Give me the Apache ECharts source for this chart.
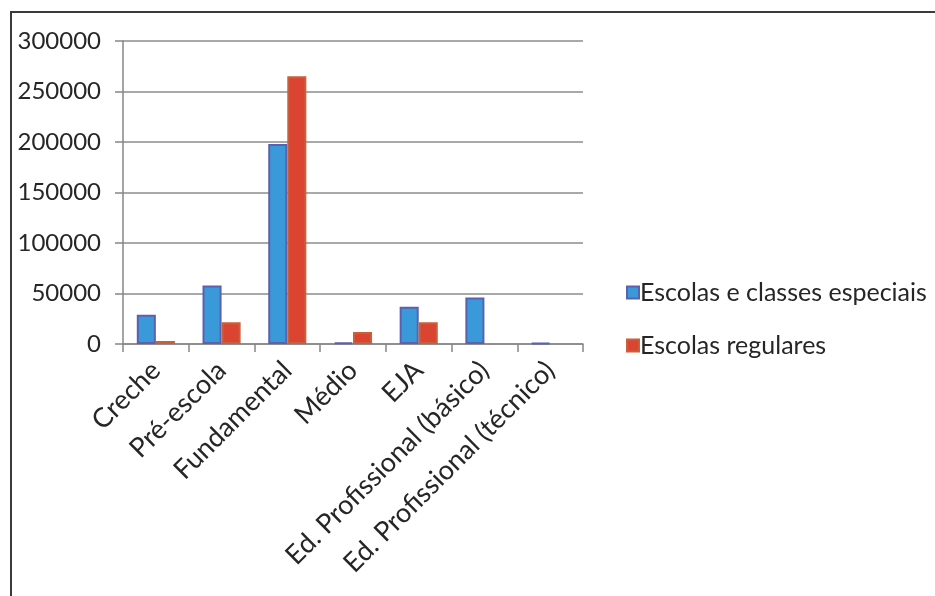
<!DOCTYPE html>
<html>
<head>
<meta charset="utf-8">
<script src="https://cdn.jsdelivr.net/npm/echarts@6/dist/echarts.min.js"></script>
<style>
  html, body { margin: 0; padding: 0; background: #fff; }
  #wrap { position: relative; width: 935px; height: 596px; overflow: hidden; }
  #chart { position: absolute; left: 0; top: 0; width: 935px; height: 596px; }
  #frame { position: absolute; left: 10px; top: 11px; width: 940px; height: 600px;
           border-top: 2px solid #3a3a3a; border-left: 2px solid #3a3a3a; pointer-events: none; }
</style>
</head>
<body>
<div id="wrap">
  <div id="chart"></div>
  <div id="frame"></div>
</div>
<script>
// Matrículas por etapa de ensino (null = sem matrículas)
const categories = ['Creche', 'Pré-escola', 'Fundamental', 'Médio', 'EJA',
  'Ed. Profissional (básico)', 'Ed. Profissional (técnico)'];
const seriesNames = ['Escolas e classes especiais', 'Escolas regulares'];
const especiais = [29000, 58000, 198000, 1500, 37000, 46000, 1200];
const regulares = [3000, 21500, 265000, 12000, 21500, null, null];
const yTicks = { min: 0, max: 300000, interval: 50000 };

const font = 'Lato, "Open Sans", sans-serif';
const chart = echarts.init(document.getElementById('chart'), null, { renderer: 'canvas' });

chart.setOption({
  animation: false,
  backgroundColor: 'transparent',
  textStyle: { fontFamily: font },
  grid: { left: 123, right: 352, top: 41, bottom: 252, containLabel: false },
  legend: {
    orient: 'vertical',
    left: 621,
    top: 275,
    itemWidth: 12,
    itemHeight: 12,
    itemGap: 28,
    icon: 'rect',
    textStyle: { fontFamily: font, fontSize: 25, color: '#262626', padding: [0, 0, 0, -4] },
    data: seriesNames
  },
  xAxis: {
    type: 'category',
    data: categories,
    boundaryGap: true,
    axisLine: { lineStyle: { color: '#868686', width: 1.5 } },
    axisTick: { show: true, length: 8, lineStyle: { color: '#868686', width: 1.5 } },
    axisLabel: {
      rotate: 45,
      interval: 0,
      margin: 22,
      fontFamily: font,
      fontSize: 27,
      color: '#262626'
    }
  },
  yAxis: {
    type: 'value',
    min: yTicks.min,
    max: yTicks.max,
    interval: yTicks.interval,
    axisLine: { show: true, lineStyle: { color: '#868686', width: 1.5 } },
    axisTick: { show: true, length: 8, lineStyle: { color: '#868686', width: 1.5 } },
    splitLine: { show: true, lineStyle: { color: '#8c8c8c', width: 1.5 } },
    axisLabel: {
      margin: 22,
      fontFamily: font,
      fontSize: 24,
      color: '#262626',
      formatter: function (v) { return String(v); }
    }
  },
  series: [
    {
      name: seriesNames[0],
      type: 'bar',
      data: especiais,
      barGap: '0%',
      barCategoryGap: '42%',
      itemStyle: { color: '#3a9ad9', borderColor: '#5b61ae', borderWidth: 2 }
    },
    {
      name: seriesNames[1],
      type: 'bar',
      data: regulares,
      itemStyle: { color: '#db4430', borderColor: '#c8603c', borderWidth: 2 }
    }
  ]
});
</script>
</body>
</html>
